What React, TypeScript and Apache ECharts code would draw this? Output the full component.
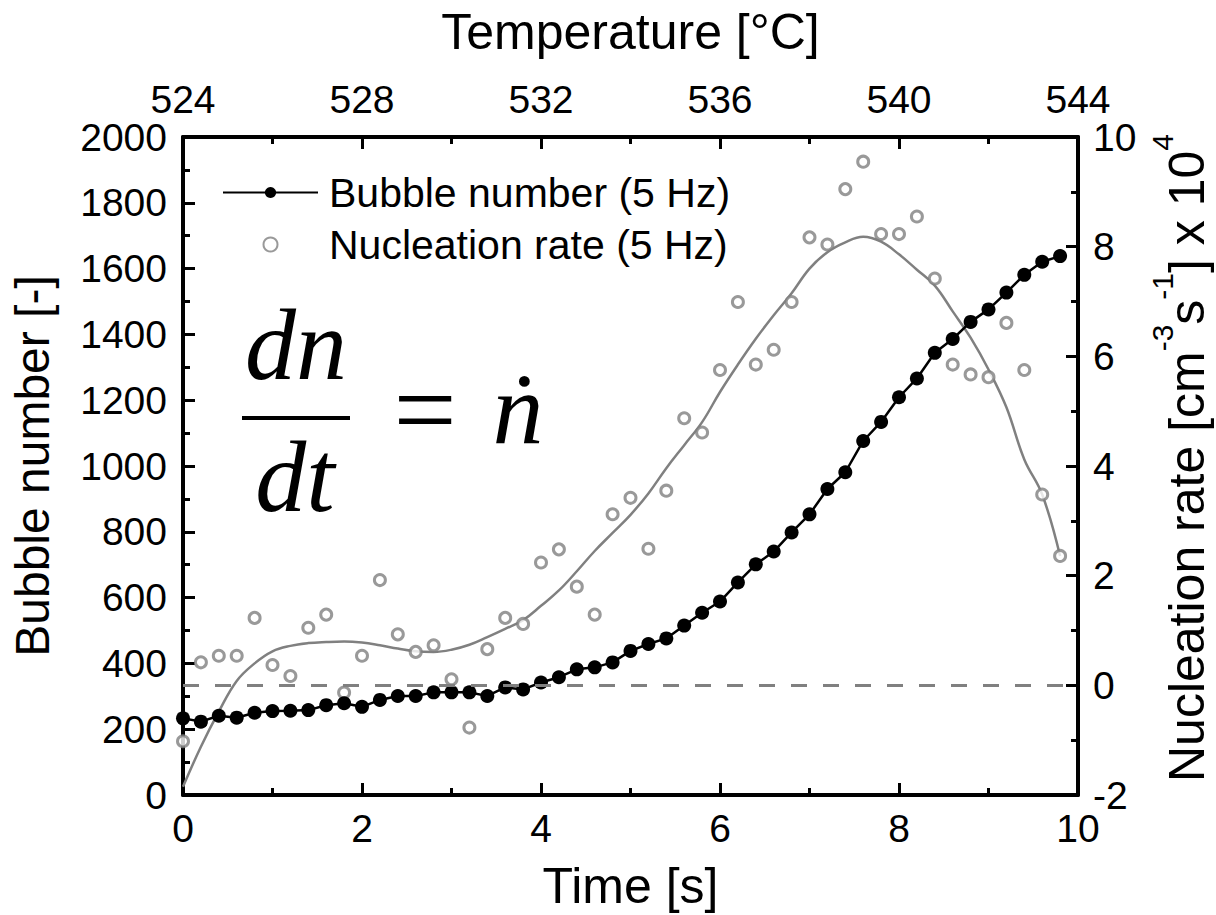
import React, { useEffect, useRef } from 'react';
import * as echarts from 'echarts';

// Time stamps of the 5 Hz acquisition [s]
const times = [
  0, 0.2, 0.4, 0.6, 0.8, 1, 1.2, 1.4, 1.6, 1.8,
  2, 2.2, 2.4, 2.6, 2.8, 3, 3.2, 3.4, 3.6, 3.8,
  4, 4.2, 4.4, 4.6, 4.8, 5, 5.2, 5.4, 5.6, 5.8,
  6, 6.2, 6.4, 6.6, 6.8, 7, 7.2, 7.4, 7.6, 7.8,
  8, 8.2, 8.4, 8.6, 8.8, 9, 9.2, 9.4, 9.6, 9.8,
];

// Bubble number [-] (left axis)
const bubbleNumber = [
  233, 223, 241, 235, 250, 255, 256, 258, 273, 279,
  268, 289, 301, 301, 312, 312, 312, 301, 327, 321,
  342, 358, 382, 388, 403, 438, 459, 476, 515, 554,
  588, 646, 701, 740, 798, 853, 930, 981, 1076, 1134,
  1209, 1266, 1344, 1386, 1438, 1476, 1527, 1581, 1621, 1638,
];

// Nucleation rate [cm^-3 s^-1] x 10^4 (right axis), measured points
const nucleationRate = [
  -1.02, 0.42, 0.54, 0.54, 1.23, 0.37, 0.17, 1.05, 1.29, -0.13,
  0.54, 1.92, 0.93, 0.61, 0.73, 0.11, -0.77, 0.66, 1.23, 1.12,
  2.24, 2.48, 1.8, 1.29, 3.12, 3.42, 2.49, 3.55, 4.87, 4.61,
  5.75, 6.99, 5.85, 6.12, 6.99, 8.17, 8.04, 9.05, 9.55, 8.23,
  8.23, 8.55, 7.42, 5.85, 5.67, 5.62, 6.61, 5.75, 3.48, 2.36,
];

// Smoothed nucleation rate curve
const nucleationFit = [
  -1.85, -1.12, -0.48, 0.08, 0.4, 0.62, 0.72, 0.77, 0.79, 0.8,
  0.78, 0.73, 0.67, 0.62, 0.61, 0.65, 0.74, 0.88, 1.03, 1.19,
  1.45, 1.73, 2.08, 2.45, 2.78, 3.11, 3.5, 3.96, 4.38, 4.8,
  5.35, 5.85, 6.32, 6.75, 7.15, 7.6, 7.9, 8.08, 8.18, 8.09,
  7.86, 7.58, 7.29, 6.82, 6.34, 5.76, 5.07, 4.12, 3.48, 2.36,
];

const seriesNames = ['Bubble number (5 Hz)', 'Nucleation rate (5 Hz)'];

const SANS = '"Liberation Sans", Arial, Helvetica, sans-serif';
const SERIF = '"Liberation Serif", "Times New Roman", "DejaVu Serif", serif';
const GRAY = '#808080';
const TICK_FONT = 39;

const label = (margin: number) => ({
  color: '#000',
  fontSize: TICK_FONT,
  fontFamily: SANS,
  margin,
  formatter: (v: number) => String(v),
});

const axisCommon = (extra: any) => ({
  type: 'value',
  axisLine: { show: true, onZero: false, lineStyle: { color: '#000', width: 4 } },
  axisTick: { show: true, inside: true, length: 12, lineStyle: { color: '#000', width: 3 } },
  minorTick: { show: true, splitNumber: 2, length: 7, lineStyle: { color: '#000', width: 3 } },
  splitLine: { show: false },
  minorSplitLine: { show: false },
  nameTextStyle: { color: '#000', fontSize: 50, fontFamily: SANS },
  ...extra,
});

export default function App() {
  const ref = useRef<HTMLDivElement>(null);

  useEffect(() => {
    if (!ref.current) return;
    const chart = echarts.init(ref.current, null, { renderer: 'svg' });

    const serifText = (text: string, x: number, y: number, size: number, italic: boolean) => ({
      type: 'text',
      x,
      y,
      style: {
        text,
        fontSize: size,
        fontFamily: SERIF,
        fontStyle: italic ? 'italic' : 'normal',
        fill: '#000',
        align: 'center',
        verticalAlign: 'middle',
      },
    });

    const option: any = {
      animation: false,
      backgroundColor: '#fff',
      grid: {
        left: 183,
        right: 138,
        top: 137,
        bottom: 120,
        containLabel: false,
        outerBoundsMode: 'none',
      },
      legend: {
        data: seriesNames,
        orient: 'vertical',
        left: 222,
        top: 172,
        padding: 0,
        itemWidth: 95,
        itemHeight: 14,
        itemGap: 11,
        selectedMode: false,
        textStyle: { color: '#000', fontSize: 41, fontFamily: SANS, lineHeight: 40, padding: [0, 0, 0, 6] },
      },
      xAxis: [
        axisCommon({
          position: 'bottom',
          min: 0,
          max: 10,
          interval: 2,
          name: 'Time [s]',
          nameLocation: 'middle',
          nameGap: 66,
          axisLabel: label(14),
        }),
        axisCommon({
          position: 'top',
          min: 524,
          max: 544,
          interval: 4,
          name: 'Temperature [°C]',
          nameLocation: 'middle',
          nameGap: 80,
          axisLabel: label(18),
        }),
      ],
      yAxis: [
        axisCommon({
          position: 'left',
          min: 0,
          max: 2000,
          interval: 200,
          name: 'Bubble number [-]',
          nameLocation: 'middle',
          nameRotate: 90,
          nameGap: 127,
          nameTextStyle: { color: '#000', fontSize: 48, fontFamily: SANS },
          axisLabel: label(16),
        }),
        axisCommon({
          position: 'right',
          min: -2,
          max: 10,
          interval: 2,
          name: 'Nucleation rate [cm{sup|-3}s{sup|-1}] x 10{sup|4}',
          nameLocation: 'middle',
          nameRotate: 90,
          nameGap: 58,
          nameTextStyle: {
            color: '#000',
            fontSize: 50,
            fontFamily: SANS,
            lineHeight: 80,
            padding: [0, 0, 0, 16],
            rich: {
              sup: { fontSize: 30, fontFamily: SANS, color: '#000', verticalAlign: 'top', lineHeight: 30 },
            },
          },
          axisLabel: label(15),
        }),
      ],
      series: [
        {
          name: 'Nucleation fit',
          type: 'line',
          xAxisIndex: 0,
          yAxisIndex: 1,
          data: times.map((t, i) => [t, nucleationFit[i]]),
          smooth: 0.4,
          symbol: 'none',
          showSymbol: false,
          lineStyle: { color: GRAY, width: 2.5 },
          emphasis: { disabled: true },
          z: 2,
          markLine: {
            silent: true,
            symbol: ['none', 'none'],
            label: { show: false },
            lineStyle: { color: GRAY, width: 3, type: [16, 16] },
            emphasis: { disabled: true },
            data: [{ yAxis: 0 }],
          },
        },
        {
          name: seriesNames[1],
          type: 'scatter',
          xAxisIndex: 0,
          yAxisIndex: 1,
          data: times.map((t, i) => [t, nucleationRate[i]]),
          symbol: 'circle',
          symbolSize: 11,
          itemStyle: { color: '#fff', borderColor: GRAY, borderWidth: 3 },
          emphasis: { disabled: true },
          z: 3,
        },
        {
          name: seriesNames[0],
          type: 'line',
          xAxisIndex: 0,
          yAxisIndex: 0,
          data: times.map((t, i) => [t, bubbleNumber[i]]),
          symbol: 'circle',
          symbolSize: 14,
          showSymbol: true,
          lineStyle: { color: '#000', width: 2.5 },
          itemStyle: { color: '#000' },
          emphasis: { disabled: true },
          z: 4,
        },
      ],
      graphic: [
        serifText('dn', 296, 344, 102, true),
        {
          type: 'rect',
          shape: { x: 242, y: 416, width: 108, height: 4 },
          style: { fill: '#000' },
        },
        serifText('dt', 295, 476, 102, true),
        serifText('=', 425, 409, 112, false),
        serifText('ṅ', 518, 409, 102, true),
      ],
    };

    chart.setOption(option);
    return () => chart.dispose();
  }, []);

  return (
    <div
      ref={ref}
      style={{ position: 'fixed', left: 0, top: 0, width: 1216, height: 915, background: '#fff' }}
    />
  );
}
